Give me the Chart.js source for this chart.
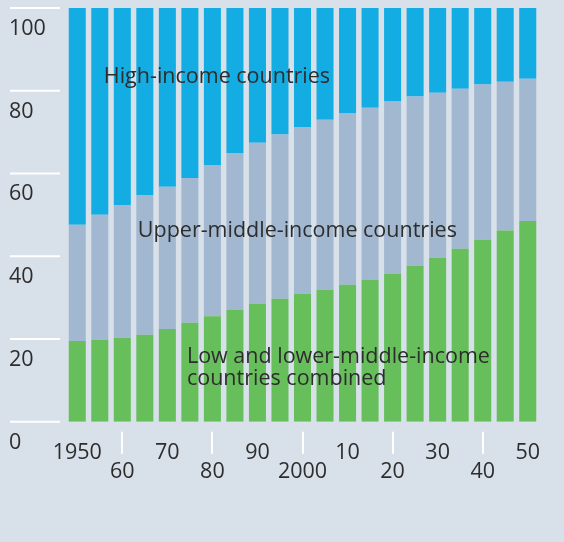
<!DOCTYPE html>
<html>
<head>
<meta charset="utf-8">
<script src="https://cdn.jsdelivr.net/npm/chart.js@4.4.1/dist/chart.umd.min.js"></script>
<style>
  html, body { margin: 0; padding: 0; background: #d8e0e9; }
  #wrap { width: 564px; height: 542px; }
</style>
</head>
<body>
<div id="wrap"><canvas id="chart"></canvas></div>
<script>
// data (shares in %)
const years = ['1950', '1955', '1960', '1965', '1970', '1975', '1980', '1985', '1990', '1995', '2000',
               '2005', '2010', '2015', '2020', '2025', '2030', '2035', '2040', '2045', '2050'];
const lowAndLowerMiddle = [19.5, 19.8, 20.3, 21.0, 22.4, 23.9, 25.5, 27.0, 28.5, 29.7, 30.9,
                           31.9, 33.1, 34.3, 35.7, 37.7, 39.6, 41.8, 44.0, 46.2, 48.5];
const upperMiddle = [28.1, 30.2, 32.1, 33.8, 34.4, 35.0, 36.4, 37.8, 38.9, 39.7, 40.2,
                     41.1, 41.4, 41.6, 41.7, 40.9, 39.9, 38.7, 37.5, 36.0, 34.4];
const highIncome = [52.4, 50.0, 47.6, 45.2, 43.2, 41.1, 38.1, 35.2, 32.6, 30.6, 28.9,
                    27.0, 25.5, 24.1, 22.6, 21.4, 20.5, 19.5, 18.5, 17.8, 17.1];
const xTickLabels = ['1950', '60', '70', '80', '90', '2000', '10', '20', '30', '40', '50'];
const yTicks = [0, 20, 40, 60, 80, 100];

const FONT = "'Open Sans', sans-serif";
const TEXT = '#2d2d2d';

// labels written inside the bars: category index (fractional) and value of the baseline
const seriesNotes = [
  { lines: ['High-income countries'], at: [1.18, 81.8] },
  { lines: ['Upper-middle-income countries'], at: [2.69, 44.6] },
  { lines: ['Low and lower-middle-income', 'countries combined'], at: [4.87, 14.1] }
];

const extras = {
  id: 'extras',
  afterDraw(chart) {
    const ctx = chart.ctx;
    const x = chart.scales.x;
    const y = chart.scales.y;
    ctx.save();
    // short white rules with the value written underneath
    ctx.strokeStyle = '#ffffff';
    ctx.lineWidth = 2;
    ctx.fillStyle = TEXT;
    ctx.font = '21.5px ' + FONT;
    ctx.textAlign = 'left';
    ctx.textBaseline = 'alphabetic';
    yTicks.forEach(v => {
      const py = y.getPixelForValue(v);
      ctx.beginPath();
      ctx.moveTo(10, py);
      ctx.lineTo(60, py);
      ctx.stroke();
      ctx.fillText(String(v), 9, py + 27);
    });
    // tick marks above the lower row of year labels
    years.forEach((yr, i) => {
      if (i % 4 !== 2) return;
      const px = Math.round(x.getPixelForValue(i));
      ctx.beginPath();
      ctx.moveTo(px, chart.chartArea.bottom + 10);
      ctx.lineTo(px, chart.chartArea.bottom + 32);
      ctx.stroke();
    });
    // series names
    seriesNotes.forEach(n => {
      const px = x.getPixelForValue(n.at[0]);
      const py = y.getPixelForValue(n.at[1]);
      n.lines.forEach((line, k) => ctx.fillText(line, px, py + k * 22));
    });
    ctx.restore();
  }
};

new Chart(document.getElementById('chart'), {
  type: 'bar',
  data: {
    labels: years,
    datasets: [
      { label: 'Low and lower-middle-income countries combined', data: lowAndLowerMiddle, backgroundColor: '#67bf5c' },
      { label: 'Upper-middle-income countries', data: upperMiddle, backgroundColor: '#a2b8d0' },
      { label: 'High-income countries', data: highIncome, backgroundColor: '#13ace3' }
    ]
  },
  options: {
    responsive: true,
    maintainAspectRatio: false,
    animation: false,
    layout: { padding: { left: 66, right: 25, top: 8, bottom: 0 } },
    datasets: { bar: { barPercentage: 0.756, categoryPercentage: 1.0, borderWidth: 0 } },
    plugins: { legend: { display: false }, tooltip: { enabled: false } },
    scales: {
      x: {
        stacked: true,
        grid: { display: false },
        border: { display: false },
        ticks: {
          autoSkip: false,
          maxRotation: 0,
          padding: 13,
          color: TEXT,
          font: { family: FONT, size: 21.5, lineHeight: 0.9 },
          callback: (val, i) => {
            if (i % 2) return '';
            const lab = xTickLabels[i / 2];
            return (i / 2) % 2 ? ['', lab] : lab;
          }
        },
        afterFit: s => { s.height = 120.3; }
      },
      y: {
        stacked: true,
        display: false,
        min: 0,
        max: 100
      }
    }
  },
  plugins: [extras]
});
</script>
</body>
</html>
